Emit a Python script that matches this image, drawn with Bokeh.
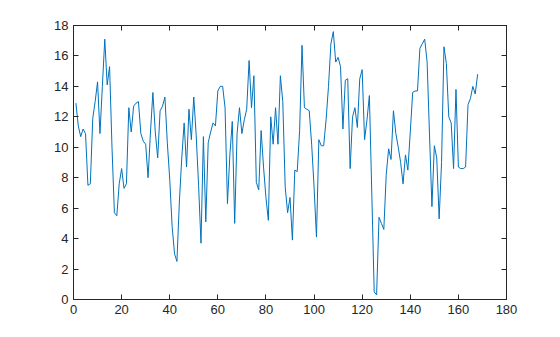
from bokeh.plotting import figure
from bokeh.models import LinearAxis, Range1d, FixedTicker, CustomLabelingPolicy
from bokeh.embed import file_html
from bokeh.resources import INLINE

x_values = list(range(1, 169))
y_values = [
    12.9, 11.4, 10.7, 11.2, 10.9, 7.5, 7.6, 11.9, 13.0, 14.3,
    10.9, 14.0, 17.1, 14.1, 15.3, 10.0, 5.7, 5.5, 7.6, 8.6,
    7.3, 7.6, 12.6, 11.0, 12.7, 12.9, 13.0, 10.9, 10.4, 10.2,
    8.0, 11.0, 13.6, 11.0, 9.3, 12.4, 12.7, 13.3, 10.3, 7.9,
    4.8, 3.0, 2.5, 6.4, 9.3, 11.6, 8.7, 12.5, 10.5, 13.3,
    10.8, 7.5, 3.7, 10.7, 5.1, 10.3, 11.0, 11.6, 11.4, 13.7,
    14.0, 14.0, 12.6, 6.3, 9.5, 11.7, 5.0, 10.9, 12.6, 10.9,
    11.8, 12.5, 15.7, 12.6, 14.7, 7.7, 7.2, 11.1, 8.7, 6.7,
    5.2, 12.0, 10.2, 12.6, 10.2, 14.7, 13.0, 7.4, 5.7, 6.7,
    3.9, 8.5, 8.4, 11.1, 16.7, 12.6, 12.5, 12.4, 10.2, 7.4,
    4.1, 10.5, 10.1, 10.1, 11.8, 14.0, 16.8, 17.6, 15.6, 15.9,
    15.3, 11.2, 14.4, 14.5, 8.6, 12.0, 12.6, 11.3, 14.5, 15.1,
    10.5, 11.8, 13.4, 7.0, 0.5, 0.3, 5.4, 5.0, 4.6, 8.2,
    9.9, 9.2, 12.4, 10.9, 10.0, 9.0, 7.6, 9.5, 8.5, 11.0,
    13.6, 13.7, 13.7, 16.5, 16.8, 17.1, 15.6, 10.8, 6.1, 10.1,
    9.3, 5.3, 9.0, 16.6, 15.5, 12.0, 11.6, 8.6, 13.8, 8.7,
    8.6, 8.6, 8.7, 12.8, 13.2, 14.0, 13.5, 14.8,
]
x_ticks = [0, 20, 40, 60, 80, 100, 120, 140, 160, 180]
y_ticks = [0, 2, 4, 6, 8, 10, 12, 14, 16, 18]

p = figure(width=560, height=337, output_backend="svg", toolbar_location=None,
           x_range=Range1d(0, 180), y_range=Range1d(0, 18),
           min_border_left=73, min_border_right=54, min_border_top=25,
           min_border_bottom=38)
p.background_fill_color = "white"
p.border_fill_color = "white"
p.outline_line_color = "#262626"
p.outline_line_width = 1
p.xgrid.visible = False
p.ygrid.visible = False

p.line(x_values, y_values, line_color="#0072BD", line_width=1)

hide_all = """
const ids = Array.from(indices)
for (const i of ids) { indices.unset(i) }
return indices
"""

def style(ax, ticks, labels=True):
    ax.ticker = FixedTicker(ticks=ticks)
    ax.major_tick_in = 5
    ax.major_tick_out = 0
    ax.minor_tick_line_color = None
    ax.axis_line_color = "#262626"
    ax.major_tick_line_color = "#262626"
    ax.major_label_text_font = "Liberation Sans"
    ax.major_label_text_font_size = "13px"
    ax.major_label_text_color = "#262626"
    ax.major_label_standoff = 5
    if not labels:
        ax.major_label_policy = CustomLabelingPolicy(code=hide_all)
        ax.major_label_standoff = 0

style(p.xaxis[0], x_ticks)
style(p.yaxis[0], y_ticks)
top = LinearAxis()
right = LinearAxis()
style(top, x_ticks, labels=False)
style(right, y_ticks, labels=False)
p.add_layout(top, "above")
p.add_layout(right, "right")

open("out.html", "w").write(file_html(p, INLINE))
